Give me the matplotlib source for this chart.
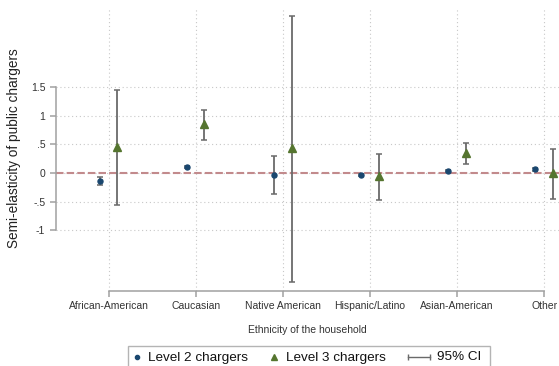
import numpy as np
import matplotlib
matplotlib.use('Agg')
import matplotlib.pyplot as plt
from matplotlib.lines import Line2D
from matplotlib.patches import Rectangle

plt.rcParams['font.family'] = ['Liberation Sans', 'DejaVu Sans']

# data
categories = ['African-American', 'Caucasian', 'Native American',
              'Hispanic/Latino', 'Asian-American', 'Other']
l2_est = [-0.14, 0.11, -0.03, -0.04, 0.04, 0.065]
l2_lo = [-0.21, 0.09, -0.36, -0.06, 0.02, 0.04]
l2_hi = [-0.07, 0.13, 0.30, -0.02, 0.06, 0.09]
l3_est = [0.45, 0.85, 0.44, -0.05, 0.35, 0.0]
l3_lo = [-0.56, 0.58, -1.90, -0.47, 0.16, -0.45]
l3_hi = [1.45, 1.11, 2.75, 0.33, 0.52, 0.42]
yticks = [1.5, 1, 0.5, 0, -0.5, -1]
ytick_labels = ['1.5', '1', '.5', '0', '-.5', '-1']
legend_labels = ['Level 2 chargers', 'Level 3 chargers', '95% CI']

navy = '#1a476f'
green = '#55752f'
ci_col = '#6a6a6a'
axis_col = '#a0a0a0'

W, H = 559, 366
fig = plt.figure(figsize=(W / 100, H / 100), dpi=100)
ax = fig.add_axes([0.0996, 0.2057, 0.9004, 0.7697])

x = np.arange(1, len(categories) + 1)
off = 0.1

ax.axhline(0, color='#c28a8c', lw=1.5, dashes=(3.6, 1.5), zorder=1)

e2 = np.array([np.array(l2_est) - np.array(l2_lo), np.array(l2_hi) - np.array(l2_est)])
e3 = np.array([np.array(l3_est) - np.array(l3_lo), np.array(l3_hi) - np.array(l3_est)])
for xs, est, err in [(x - off, l2_est, e2), (x + off, l3_est, e3)]:
    ax.errorbar(xs, est, yerr=err, fmt='none', ecolor=ci_col, elinewidth=1.3,
                capsize=2.4, capthick=1.1, zorder=2)
ax.plot(x - off, l2_est, 'o', color=navy, ms=3.6, zorder=3)
ax.plot(x + off, l3_est, '^', color=green, ms=5.5, zorder=3)

ax.set_xlim(0.393, 6.17)
ax.set_ylim(-2.06, 2.87)
ax.set_yticks(yticks)
ax.set_yticklabels(ytick_labels)
ax.set_xticks(x)
ax.set_xticklabels(categories)
ax.grid(True, color='#c8c8c8', ls=(0, (1, 2.5)), lw=0.8)
ax.set_axisbelow(True)

for s in ['top', 'right']:
    ax.spines[s].set_visible(False)
ax.spines['left'].set_bounds(-1, 1.5)
ax.spines['bottom'].set_bounds(1, 6)
for s in ['left', 'bottom']:
    ax.spines[s].set_color(axis_col)
    ax.spines[s].set_linewidth(1.1)
ax.tick_params(axis='both', colors=axis_col, length=4, width=1.1,
               labelcolor='#333333', labelsize=7.5)

ax.set_ylabel('Semi-elasticity of public chargers', fontsize=9.8, color='#222222')
ax.yaxis.set_label_coords(-0.068, 0.507)
ax.set_xlabel('Ethnicity of the household', fontsize=7.5, color='#333333', labelpad=10)


# legend drawn by hand, in pixel positions of the figure
def fx(px):
    return px / W


def fy(py):
    return 1 - py / H


fig.patches.append(Rectangle((fx(128.3), fy(372)), fx(490) - fx(128.3), fy(346) - fy(372),
                             transform=fig.transFigure, fill=False,
                             edgecolor='#b4b4b4', lw=1))
ly = 356.5
fig.add_artist(Line2D([fx(137.3)], [fy(ly)], marker='o', color=navy, ms=3,
                      transform=fig.transFigure))
fig.add_artist(Line2D([fx(274)], [fy(ly)], marker='^', color=green, ms=4,
                      transform=fig.transFigure))
fig.add_artist(Line2D([fx(408.3), fx(430)], [fy(ly), fy(ly)], marker='|', color=ci_col,
                      lw=1, ms=4.5, mew=1, transform=fig.transFigure))
for tx, lab in zip([148.3, 285.7, 436.7], legend_labels):
    fig.text(fx(tx), fy(360.5), lab, fontsize=9.7, color='#111111', va='baseline')

fig.savefig('out.png', dpi=100)
